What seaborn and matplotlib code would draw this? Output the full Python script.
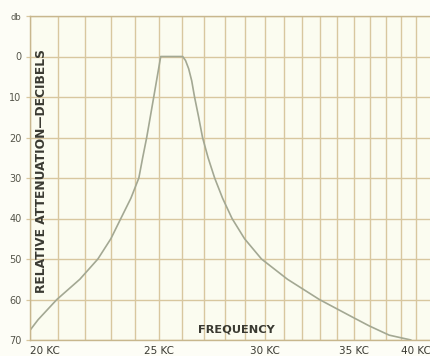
import numpy as np
import pandas as pd
import seaborn as sns
import matplotlib.pyplot as plt
from matplotlib.ticker import NullLocator

# response curve (frequency in KC, attenuation in db)
freq_kc = [20.0, 20.28, 20.95, 21.8, 22.49, 23.0, 23.4, 23.81, 24.14, 24.3,
           24.47, 24.77, 25.07, 25.5, 26.04, 26.17, 26.31, 26.45, 26.58, 26.77,
           26.95, 27.21, 27.52, 27.9, 28.36, 28.98, 29.84, 31.21, 32.98, 34.9,
           35.94, 37.21, 38.64]
atten_db = [67.6, 65.0, 60.0, 55.0, 50.0, 45.0, 40.0, 35.0, 30.0, 25.0,
            20.0, 10.0, 0.0, 0.0, 0.0, 1.0, 3.0, 6.0, 10.0, 15.0,
            20.0, 25.0, 30.0, 35.0, 40.0, 45.0, 50.0, 55.0, 60.0, 64.3,
            66.5, 68.8, 70.0]

x_grid = list(range(20, 41))
x_labels = {20: "20 KC", 25: "25 KC", 30: "30 KC", 35: "35 KC", 40: "40 KC"}
y_ticks = [-10, 0, 10, 20, 30, 40, 50, 60, 70]
y_labels = ["db", "0", "10", "20", "30", "40", "50", "60", "70"]

paper = "#fbfcf0"
grid_col = "#d8c79f"
ink = "#3a3a32"

sns.set_theme(style="white", rc={"axes.facecolor": paper, "figure.facecolor": "#fdfdf6"})
plt.rcParams["font.family"] = ["DejaVu Sans"]

df = pd.DataFrame({"freq": freq_kc, "db": atten_db})

fig = plt.figure(figsize=(4.31, 3.56), dpi=100)
ax = fig.add_axes([30 / 431, 16 / 356, 1 - 30 / 431, 324 / 356])

sns.lineplot(data=df, x="freq", y="db", ax=ax, color="#a3a893", lw=1.2)

ax.set_xscale("log")
ax.set_xlim(20, 40)
ax.set_ylim(70, -10)
ax.xaxis.set_minor_locator(NullLocator())
ax.set_xticks(x_grid)
ax.set_xticklabels([x_labels.get(v, "") for v in x_grid])
ax.set_yticks(y_ticks)
ax.set_yticklabels(y_labels)

ax.grid(True, color=grid_col, lw=1.0)
ax.set_axisbelow(True)
ax.tick_params(axis="x", length=0, pad=4, labelsize=7.5, labelcolor=ink)
ax.tick_params(axis="y", left=True, length=3, width=0.9, color=grid_col, pad=3,
               labelsize=7, labelcolor="#55554a")
for lab in ax.get_yticklabels():
    if lab.get_text() == "db":
        lab.set_fontsize(6)
for lab in ax.get_xticklabels():
    if lab.get_text() == "20 KC":
        lab.set_ha("left")
    elif lab.get_text() == "40 KC":
        lab.set_ha("right")

for side in ["left", "bottom", "top"]:
    ax.spines[side].set_color("#c8b78e")
    ax.spines[side].set_linewidth(1.0)
ax.spines["right"].set_visible(False)

ax.set_xlabel("")
ax.set_ylabel("")
ax.text(0.028, 0.52, "RELATIVE ATTENUATION\u2014DECIBELS", transform=ax.transAxes,
        rotation=90, ha="center", va="center", fontsize=8.8, fontweight="bold",
        color=ink)
ax.text(28.55, 67.3, "FREQUENCY", ha="center", va="center", fontsize=8.2,
        fontweight="bold", color=ink)

fig.savefig("out.png", dpi=100)
